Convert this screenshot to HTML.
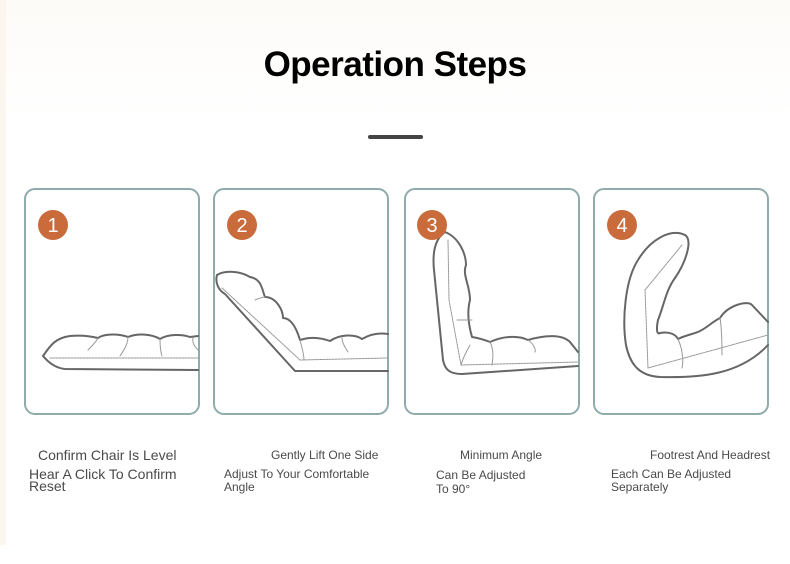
<!DOCTYPE html>
<html><head><style>
html,body{margin:0;padding:0;background:#fff;}
body{width:790px;height:564px;overflow:hidden;position:relative;font-family:"Liberation Sans",Arial,sans-serif;}
.t{position:absolute;color:#4a4a4a;font-size:12px;line-height:12px;}
</style></head><body>
<div style="position:absolute;left:0;top:0;width:790px;height:120px;background:linear-gradient(#fdfbf8,#fff)"></div>
<div style="position:absolute;left:0;top:0;width:6px;height:545px;background:#fdf6ee"></div>
<div style="position:absolute;left:0;top:45px;width:790px;text-align:center;font-size:35px;font-weight:bold;color:#000;line-height:40px;letter-spacing:-0.5px">Operation Steps</div>
<div style="position:absolute;left:368px;top:135px;width:55px;height:4px;border-radius:2px;background:#444"></div>
<svg width="790" height="564" style="position:absolute;left:0;top:0" fill="none" stroke-linejoin="round" stroke-linecap="round">
<g stroke="#8fabab" stroke-width="2">
<rect x="25" y="189" width="174" height="225" rx="10"/>
<rect x="214" y="189" width="174" height="225" rx="10"/>
<rect x="405" y="189" width="174" height="225" rx="10"/>
<rect x="594" y="189" width="174" height="225" rx="10"/>
</g>
<g stroke="#666" stroke-width="2">
<path d="M43,356 C50,346 55,338 70,336 C80,335 90,336 98,338 C105,333 120,334 128,337 C138,333 152,334 160,339 C168,334 182,334 190,337 L198,336"/>
<path d="M43,356 C48,362 55,368 65,369 L198,370"/>
</g>
<g stroke="#999" stroke-width="1">
<path d="M50,358 L198,358" stroke-dasharray="2,1"/>
<path d="M88,350 C92,346 96,342 98,338 M120,356 C124,350 128,344 128,337 M162,356 C160,350 160,344 160,339 M198,350 C194,346 192,342 193,338"/>
</g>
<g stroke="#666" stroke-width="2">
<path d="M217,275 C225,270 240,271 250,277 C262,279 262,290 265,297 C276,297 283,310 283,318 C292,318 297,330 300,340 C312,336 322,338 330,341 C340,334 355,334 362,339 C372,333 382,333 388,334"/>
<path d="M217,275 C215,282 218,290 225,294 L295,371 L388,371"/>
</g>
<g stroke="#999" stroke-width="1">
<path d="M222,288 L300,360 L388,358" stroke-dasharray="2,1"/>
<path d="M255,300 C260,298 264,297 265,297 M300,340 C302,348 304,354 304,360 M348,352 C344,346 342,342 342,338"/>
</g>
<g stroke="#666" stroke-width="2">
<path d="M445,232 C460,238 466,255 466,265 C462,275 470,285 470,300 C466,315 470,330 472,337 C478,338 485,340 490,342 C505,335 520,336 528,340 C545,335 562,334 570,342 L578,352"/>
<path d="M445,232 C436,238 432,250 434,270 L443,360 C445,370 450,374 462,374 L578,366"/>
</g>
<g stroke="#999" stroke-width="1">
<path d="M448,240 L449,300 L461,365 L578,362" stroke-dasharray="2,1"/>
<path d="M457,320 L472,320 M470,345 C466,352 463,358 461,365 M490,342 C494,350 493,358 492,365 M528,340 C534,344 536,350 535,352"/>
</g>
<g stroke="#666" stroke-width="2">
<path d="M685,235 C693,240 686,262 675,278 C666,290 664,305 658,320 C656,330 657,335 660,333 C670,331 676,335 678,339 C686,335 694,334 700,331 C708,327 712,322 720,318 C728,305 748,300 752,305 L768,322"/>
<path d="M685,235 C670,228 650,240 638,260 C625,280 622,320 626,345 C630,365 640,376 660,377 C700,378 740,375 768,345"/>
</g>
<g stroke="#999" stroke-width="1">
<path d="M682,245 L645,290 L648,368 L768,335" stroke-dasharray="2,1"/>
<path d="M678,339 C682,348 684,360 682,368 M720,318 C722,330 722,345 722,355"/>
</g>
<g fill="#c96b3a">
<circle cx="53" cy="225" r="15"/><circle cx="242" cy="225" r="15"/><circle cx="432" cy="225" r="15"/><circle cx="622" cy="225" r="15"/>
</g>
<g fill="#fff" font-family="Liberation Sans,Arial,sans-serif" font-size="20" text-anchor="middle">
<text x="53" y="232">1</text><text x="242" y="232">2</text><text x="432" y="232">3</text><text x="622" y="232">4</text>
</g>
</svg>
<div class="t" style="left:38px;top:448px;font-size:14px;line-height:14px">Confirm Chair Is Level</div>
<div class="t" style="left:29px;top:468px;font-size:14px;line-height:12px">Hear A Click To Confirm<br>Reset</div>
<div class="t" style="left:271px;top:449px">Gently Lift One Side</div>
<div class="t" style="left:224px;top:468px;line-height:13px">Adjust To Your Comfortable<br>Angle</div>
<div class="t" style="left:460px;top:449px">Minimum Angle</div>
<div class="t" style="left:436px;top:468px;line-height:14px">Can Be Adjusted<br>To 90°</div>
<div class="t" style="left:650px;top:449px">Footrest And Headrest</div>
<div class="t" style="left:611px;top:468px;line-height:13px">Each Can Be Adjusted<br>Separately</div>
</body></html>
